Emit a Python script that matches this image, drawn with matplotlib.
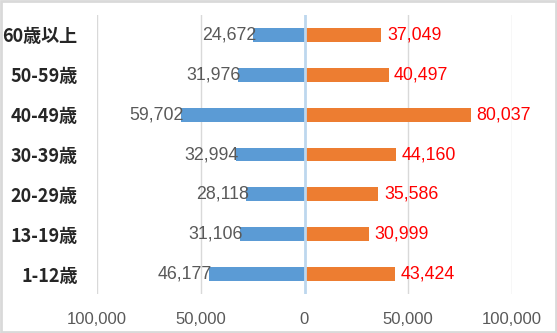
import matplotlib.pyplot as plt
from matplotlib.patches import Rectangle
from matplotlib.ticker import FuncFormatter

# 年齢層（下から上へ）
categories = ['1-12歳', '13-19歳', '20-29歳', '30-39歳', '40-49歳', '50-59歳', '60歳以上']
left_vals = [46177, 31106, 28118, 32994, 59702, 31976, 24672]
right_vals = [43424, 30999, 35586, 44160, 80037, 40497, 37049]
xticks = [-100000, -50000, 0, 50000, 100000]

num_font = 'Liberation Sans'
cat_font = ['Noto Sans CJK JP', 'DejaVu Sans']

fig = plt.figure(figsize=(5.57, 3.33), dpi=100)
ax = fig.add_axes([97/557, 1-294/333, (512-97)/557, (294-15)/333])

y = list(range(len(categories)))
ax.barh(y, [-v for v in left_vals], height=0.35, color='#5B9BD5', zorder=2)
ax.barh(y, right_vals, height=0.35, color='#ED7D31', zorder=2)

ax.set_xlim(-100000, 100000)
ax.set_ylim(-0.5, len(categories) - 0.5)

for x in xticks:
    if x != 0:
        ax.axvline(x, color='#D9D9D9', lw=1, zorder=0)
ax.axvline(0, color='#BDD7EE', lw=2, zorder=3)

for i, v in enumerate(left_vals):
    ax.annotate(f'{v:,}', (-v, i), xytext=(2, 0), textcoords='offset points',
                ha='right', va='center', color='#595959', fontsize=12.8,
                family=num_font, zorder=4)
for i, v in enumerate(right_vals):
    ax.annotate(f'{v:,}', (v, i), xytext=(4, 0), textcoords='offset points',
                ha='left', va='center', color='#FF0000', fontsize=12.8,
                family=num_font, zorder=4)

ax.set_xticks(xticks)
ax.xaxis.set_major_formatter(FuncFormatter(lambda v, p: f'{abs(int(v)):,}'))
for lab in ax.get_xticklabels():
    lab.set_family(num_font)
    lab.set_fontsize(12)
    lab.set_color('#595959')
ax.tick_params(axis='x', length=0, pad=13)

ax.set_yticks(y)
ax.set_yticklabels(categories)
for lab in ax.get_yticklabels():
    lab.set_family(cat_font)
    lab.set_fontsize(13)
    lab.set_fontweight('bold')
    lab.set_color('#262626')
ax.tick_params(axis='y', length=0, pad=14)

for s in ax.spines.values():
    s.set_visible(False)

fig.patches.append(Rectangle((0.002, 0.003), 0.996, 0.994, transform=fig.transFigure,
                             fill=False, edgecolor='#D9D9D9', lw=2))

fig.savefig('out.png', dpi=100)
